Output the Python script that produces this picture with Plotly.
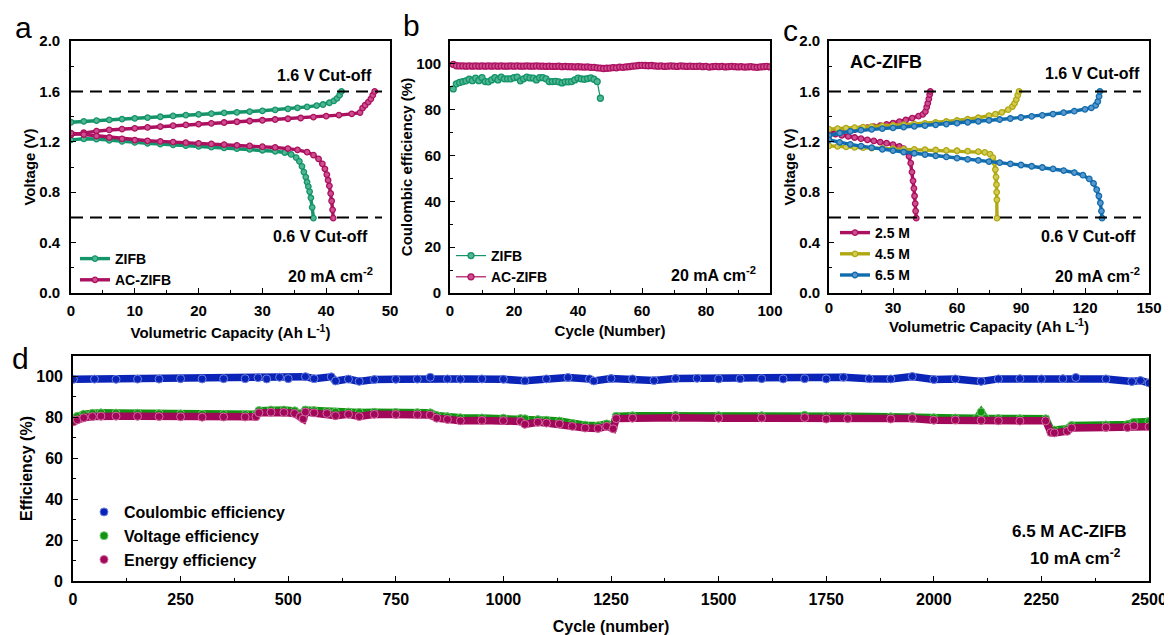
import plotly.graph_objects as go

FONT = "Liberation Sans"
W, H = 1172, 635
OFF = 8  # the page body adds an 8px margin around the figure

# ---- panel a: charge / discharge curves at 20 mA cm-2 ----
zifb_chg_cap = [0, 2, 4, 6, 8, 10, 12, 14, 16, 18, 20, 22, 24, 26, 28, 30, 32, 34, 35.5, 37, 38.5,
                39.5, 40.5, 41.2, 41.7, 42.1, 42.4]
zifb_chg_v = [1.355, 1.362, 1.368, 1.374, 1.380, 1.386, 1.392, 1.399, 1.405, 1.411, 1.418, 1.423,
              1.429, 1.434, 1.440, 1.446, 1.453, 1.462, 1.470, 1.477, 1.487, 1.496, 1.510, 1.525,
              1.545, 1.570, 1.600]
zifb_dis_cap = [0, 2, 4, 6, 8, 10, 12, 14, 16, 18, 20, 22, 24, 26, 28, 30, 32, 33.5, 34.5, 35.3,
                35.8, 36.2, 36.5, 36.8, 37.0, 37.2, 37.4, 37.6, 37.8, 38.0]
zifb_dis_v = [1.215, 1.224, 1.222, 1.212, 1.203, 1.195, 1.188, 1.182, 1.176, 1.170, 1.164, 1.158,
              1.152, 1.146, 1.140, 1.133, 1.125, 1.115, 1.100, 1.075, 1.045, 1.005, 0.960, 0.920,
              0.880, 0.845, 0.805, 0.755, 0.680, 0.595]
ac_chg_cap = [0, 2, 4, 6, 8, 10, 12, 14, 16, 18, 20, 22, 24, 26, 28, 30, 32, 34, 36, 38, 40, 42, 44,
              45.3, 45.7, 46.1, 46.6, 47.0, 47.3, 47.6]
ac_chg_v = [1.255, 1.272, 1.285, 1.294, 1.301, 1.307, 1.314, 1.321, 1.328, 1.334, 1.341, 1.347,
            1.353, 1.359, 1.365, 1.371, 1.377, 1.383, 1.389, 1.396, 1.403, 1.412, 1.422, 1.432,
            1.468, 1.490, 1.515, 1.540, 1.570, 1.600]
ac_dis_cap = [0, 2, 4, 6, 8, 10, 12, 14, 16, 18, 20, 22, 24, 26, 28, 30, 32, 34, 35.5, 37, 38, 38.8,
              39.4, 39.8, 40.1, 40.3, 40.5, 40.7, 40.85, 41.0, 41.1]
ac_dis_v = [1.268, 1.258, 1.246, 1.234, 1.224, 1.214, 1.208, 1.203, 1.198, 1.193, 1.188, 1.183,
            1.178, 1.172, 1.167, 1.161, 1.155, 1.146, 1.136, 1.118, 1.095, 1.065, 1.025, 0.985,
            0.940, 0.895, 0.850, 0.790, 0.730, 0.660, 0.595]

# ---- panel b: coulombic efficiency vs cycle ----
zifb_ce = [89.1, 91.3, 91.9, 92.3, 92.6, 93.3, 92.7, 93.8, 92.7, 94.0, 92.3, 92.2, 93.0, 94.0, 93.0,
           94.2, 93.5, 93.5, 93.5, 94.0, 94.2, 92.6, 93.5, 94.2, 93.9, 93.8, 93.0, 94.0, 94.0, 93.5,
           92.3, 92.3, 92.4, 92.2, 91.7, 92.2, 92.2, 92.3, 93.0, 93.8, 93.5, 93.3, 93.6, 93.9, 93.3,
           92.3, 85.0]
zifb_cycle = list(range(1, len(zifb_ce) + 1))
ac_ce = [99.8, 99.2, 99.1, 99.1, 99.0, 99.1, 99.0, 99.1, 99.0, 99.1,
         99.0, 99.1, 99.0, 99.1, 99.0, 99.1, 99.0, 99.0, 99.1, 99.0,
         99.1, 99.0, 99.0, 99.1, 99.0, 99.0, 99.1, 99.0, 99.0, 98.9,
         99.0, 98.9, 98.9, 99.0, 98.8, 98.9, 98.8, 98.8, 98.7, 98.8,
         98.7, 98.6, 98.7, 98.5, 98.5, 98.3, 98.2, 98.0, 98.1, 98.2,
         98.4, 98.3, 98.6, 98.5, 98.7, 98.8, 99.0, 99.1, 99.3, 99.4,
         99.3, 99.2, 99.3, 99.1, 99.0, 99.1, 98.9, 99.0, 99.1, 99.0,
         98.9, 99.1, 99.0, 98.9, 99.0, 98.9, 98.9, 99.0, 98.8, 98.9,
         98.6, 98.8, 98.9, 98.8, 98.9, 98.7, 98.8, 98.9, 98.8, 98.7,
         98.8, 98.6, 98.7, 98.8, 98.6, 98.5, 98.7, 98.8, 98.9, 98.7]
ac_cycle = list(range(1, len(ac_ce) + 1))

# ---- panel c: AC-ZIFB at three concentrations ----
m25_chg_cap = [0, 3, 6, 9, 12, 15, 18, 21, 24, 27, 30, 33, 36, 39, 42, 44, 45.2, 45.8, 46.3, 46.8,
               47.2, 47.5]
m25_chg_v = [1.268, 1.275, 1.282, 1.289, 1.296, 1.304, 1.312, 1.320, 1.329, 1.338, 1.348, 1.360,
             1.373, 1.388, 1.404, 1.418, 1.440, 1.475, 1.505, 1.540, 1.575, 1.600]
m25_dis_cap = [0, 3, 6, 9, 12, 15, 18, 21, 24, 27, 30, 33, 35, 36.5, 37.5, 38.3, 38.9, 39.4, 39.8,
               40.1, 40.4, 40.6, 40.9]
m25_dis_v = [1.273, 1.262, 1.252, 1.243, 1.234, 1.225, 1.216, 1.207, 1.198, 1.189, 1.178, 1.163,
             1.145, 1.120, 1.085, 1.030, 0.960, 0.890, 0.830, 0.770, 0.710, 0.650, 0.594]
m45_chg_cap = [0, 4, 8, 12, 16, 20, 25, 30, 35, 40, 45, 50, 55, 60, 65, 70, 75, 78, 81, 84, 86, 87,
               87.8, 88.5, 89.1]
m45_chg_v = [1.300, 1.305, 1.309, 1.313, 1.317, 1.321, 1.326, 1.331, 1.336, 1.341, 1.347, 1.353,
             1.361, 1.369, 1.379, 1.391, 1.407, 1.419, 1.434, 1.455, 1.480, 1.505, 1.535, 1.570,
             1.600]
m45_dis_cap = [0, 4, 8, 12, 16, 20, 25, 30, 35, 40, 45, 50, 55, 60, 65, 70, 73, 75.5, 76.8, 77.6,
               78.0, 78.3, 78.5, 78.6, 78.7, 78.75]
m45_dis_v = [1.168, 1.163, 1.159, 1.156, 1.153, 1.150, 1.147, 1.145, 1.142, 1.140, 1.137, 1.135,
             1.132, 1.129, 1.126, 1.122, 1.116, 1.102, 1.075, 1.035, 0.980, 0.920, 0.860, 0.800,
             0.740, 0.594]
m65_chg_cap = [0, 5, 10, 15, 20, 25, 30, 35, 40, 45, 50, 55, 60, 65, 70, 75, 80, 85, 90, 95, 100,
               105, 110, 115, 120, 123, 125, 126, 126.6, 127.0]
m65_chg_v = [1.250, 1.270, 1.283, 1.292, 1.299, 1.305, 1.311, 1.317, 1.323, 1.329, 1.335, 1.341,
             1.348, 1.355, 1.362, 1.370, 1.377, 1.385, 1.393, 1.401, 1.410, 1.420, 1.431, 1.443,
             1.458, 1.470, 1.490, 1.520, 1.560, 1.600]
m65_dis_cap = [0, 5, 10, 15, 20, 25, 30, 35, 40, 45, 50, 55, 60, 65, 70, 75, 80, 85, 90, 95, 100,
               105, 110, 115, 119, 122, 124, 125.5, 126.5, 127.2, 127.7, 128.0]
m65_dis_v = [1.215, 1.196, 1.180, 1.166, 1.153, 1.141, 1.130, 1.119, 1.109, 1.099, 1.089, 1.080,
             1.070, 1.061, 1.052, 1.043, 1.034, 1.025, 1.016, 1.006, 0.996, 0.985, 0.972, 0.956,
             0.935, 0.905, 0.870, 0.820, 0.770, 0.715, 0.650, 0.594]

CUTOFF_HIGH = 1.6
CUTOFF_LOW = 0.6

# ---- panel d: long cycling of 6.5 M AC-ZIFB at 10 mA cm-2 ----
ce_cycle = [1, 50, 100, 150, 200, 250, 300, 350, 400, 430, 450, 480, 500, 540, 560, 600, 610, 640,
            665, 700, 750, 800, 830, 870, 900, 950, 1000, 1050, 1100, 1150, 1200, 1210, 1250, 1300,
            1350, 1400, 1450, 1500, 1550, 1600, 1650, 1700, 1750, 1790, 1850, 1900, 1950, 2000,
            2050, 2110, 2150, 2200, 2250, 2300, 2330, 2400, 2460, 2480, 2500]
ce_val = [98.6, 98.7, 98.6, 98.7, 98.7, 98.9, 98.8, 98.9, 98.9, 99.4, 98.8, 99.6, 98.9, 99.9, 98.9,
          99.8, 97.8, 98.7, 97.6, 98.5, 98.6, 98.7, 99.6, 98.8, 98.7, 98.8, 98.6, 97.9, 98.8, 99.5,
          98.8, 97.8, 99.0, 98.8, 98.0, 99.0, 99.1, 98.8, 98.9, 98.9, 98.8, 98.9, 98.8, 99.6, 98.9,
          98.8, 100.0, 98.5, 98.8, 97.6, 98.8, 98.9, 98.8, 98.9, 99.5, 98.8, 97.5, 98.0, 96.8]
ee_cycle = [1, 10, 25, 45, 65, 100, 150, 200, 250, 300, 350, 400, 425, 432, 460, 490, 515, 528, 535,
            540, 560, 590, 610, 640, 665, 700, 750, 800, 830, 845, 870, 900, 950, 1000, 1040, 1050,
            1080, 1100, 1130, 1160, 1190, 1220, 1240, 1255, 1262, 1300, 1400, 1500, 1600, 1700,
            1750, 1800, 1900, 1950, 2000, 2050, 2110, 2150, 2200, 2260, 2272, 2280, 2310, 2320,
            2400, 2450, 2465, 2500]
ee_val = [77.8, 78.8, 79.8, 80.4, 80.6, 80.6, 80.5, 80.4, 80.3, 80.1, 80.2, 80.2, 80.3, 82.2, 82.5,
          82.4, 81.9, 80.4, 79.2, 82.6, 82.2, 81.9, 80.8, 81.5, 80.4, 81.5, 81.4, 81.3, 81.1, 79.6,
          79.0, 78.3, 78.5, 78.4, 78.0, 76.6, 77.6, 77.2, 76.8, 75.6, 74.8, 74.6, 75.6, 74.4, 79.4,
          79.6, 79.8, 79.6, 79.7, 79.9, 79.2, 79.4, 79.2, 79.5, 78.6, 78.7, 78.5, 78.3, 78.2, 78.3,
          72.6, 72.4, 73.2, 74.8, 75.1, 75.0, 75.8, 75.4]
ve_cycle = [1, 10, 25, 45, 65, 100, 150, 200, 250, 300, 350, 400, 425, 432, 460, 490, 515, 528, 535,
            540, 560, 590, 610, 640, 665, 700, 750, 800, 830, 845, 870, 900, 950, 1000, 1040, 1050,
            1080, 1100, 1130, 1160, 1190, 1220, 1240, 1255, 1262, 1300, 1400, 1500, 1600, 1700,
            1750, 1800, 1900, 1950, 2000, 2050, 2100, 2110, 2120, 2150, 2200, 2260, 2272, 2280,
            2310, 2320, 2400, 2450, 2465, 2500]
ve_val = [79.2, 80.5, 81.5, 82.0, 82.2, 82.1, 82.0, 81.8, 81.7, 81.5, 81.5, 81.4, 81.5, 83.3, 83.6,
          83.6, 83.2, 82.0, 80.6, 83.6, 83.3, 82.9, 82.6, 82.6, 82.4, 82.5, 82.4, 82.3, 82.2, 80.9,
          80.3, 79.8, 79.7, 79.6, 79.4, 79.3, 78.9, 78.6, 78.2, 77.0, 76.2, 75.9, 76.8, 76.0, 80.5,
          80.8, 80.9, 80.8, 80.8, 81.0, 80.6, 80.5, 80.3, 80.4, 79.8, 79.7, 79.6, 82.6, 79.5, 79.4,
          79.3, 79.3, 74.0, 73.8, 74.4, 76.0, 76.3, 76.5, 77.6, 78.0]

GREEN, GREEN_L = "#13946a", "#52b690"
MAG, MAG_L = "#ab1160", "#cf4f8e"
OLIVE, OLIVE_L = "#b0a812", "#d2cc55"
BLUE, BLUE_L = "#116cae", "#5898cc"
CE_C, CE_L = "#0a24b8", "#6e82dc"
VE_C, VE_L = "#129312", "#6cc46c"
EE_C, EE_L = "#a2085a", "#cf6c9f"


def curve(x, y, color, fill, xaxis, yaxis, name=None, legend=None, lw=3.4, ms=5.5):
    return go.Scatter(
        x=x, y=y, mode="lines+markers", name=name or "",
        showlegend=name is not None, legend=legend,
        line={"color": color, "width": lw},
        marker={"symbol": "circle", "size": ms, "color": fill, "line": {"color": color, "width": 1.3}},
        xaxis=xaxis, yaxis=yaxis, hoverinfo="skip",
    )


fig = go.Figure()

# panel a
fig.add_trace(curve(zifb_chg_cap, zifb_chg_v, GREEN, GREEN_L, "x", "y", "ZIFB", "legend"))
fig.add_trace(curve(zifb_dis_cap, zifb_dis_v, GREEN, GREEN_L, "x", "y"))
fig.add_trace(curve(ac_chg_cap, ac_chg_v, MAG, MAG_L, "x", "y", "AC-ZIFB", "legend"))
fig.add_trace(curve(ac_dis_cap, ac_dis_v, MAG, MAG_L, "x", "y"))

# panel b
fig.add_trace(curve(zifb_cycle, zifb_ce, GREEN, GREEN_L, "x2", "y2", "ZIFB", "legend2", lw=1.2, ms=6))
fig.add_trace(curve(ac_cycle, ac_ce, MAG, MAG_L, "x2", "y2", "AC-ZIFB", "legend2", lw=1.2, ms=6))

# panel c
fig.add_trace(curve(m25_chg_cap, m25_chg_v, MAG, MAG_L, "x3", "y3", "2.5 M", "legend3"))
fig.add_trace(curve(m25_dis_cap, m25_dis_v, MAG, MAG_L, "x3", "y3"))
fig.add_trace(curve(m45_chg_cap, m45_chg_v, OLIVE, OLIVE_L, "x3", "y3", "4.5 M", "legend3"))
fig.add_trace(curve(m45_dis_cap, m45_dis_v, OLIVE, OLIVE_L, "x3", "y3"))
fig.add_trace(curve(m65_chg_cap, m65_chg_v, BLUE, BLUE_L, "x3", "y3", "6.5 M", "legend3"))
fig.add_trace(curve(m65_dis_cap, m65_dis_v, BLUE, BLUE_L, "x3", "y3"))

# panel d: thick band + markers (markers carry the legend)
for cyc, val, col, lite, name in [
    (ce_cycle, ce_val, CE_C, CE_L, "Coulombic efficiency"),
    (ve_cycle, ve_val, VE_C, VE_L, "Voltage efficiency"),
    (ee_cycle, ee_val, EE_C, EE_L, "Energy efficiency"),
]:
    fig.add_trace(go.Scatter(
        x=cyc, y=val, mode="lines", showlegend=False,
        line={"color": col, "width": 7.5}, xaxis="x4", yaxis="y4", hoverinfo="skip",
    ))
    fig.add_trace(go.Scatter(
        x=cyc, y=val, mode="markers", name=name, legend="legend4",
        marker={"size": 8, "color": col, "line": {"color": lite, "width": 1}},
        xaxis="x4", yaxis="y4", hoverinfo="skip",
    ))


def axis(domain, rng, dtick, minor_dtick, title, anchor, standoff, fmt=None, size=15, tsize=15,
         label_gap=3):
    d = {
        "domain": domain, "range": rng, "dtick": dtick, "tick0": 0, "anchor": anchor,
        "showline": True, "linecolor": "black", "linewidth": 1.6, "mirror": True,
        "ticks": "inside", "ticklen": 5, "tickwidth": 1.4, "tickcolor": "black",
        "minor": {"ticks": "inside", "ticklen": 3, "tickwidth": 1.2, "tickcolor": "black",
                  "dtick": minor_dtick, "tick0": 0},
        "showgrid": False, "zeroline": False, "automargin": False,
        "ticklabelstandoff": label_gap,
        "tickfont": {"family": FONT, "size": size, "color": "black", "weight": "bold"},
        "title": {"text": title, "standoff": standoff,
                  "font": {"family": FONT, "size": tsize, "color": "black", "weight": "bold"}},
    }
    if fmt:
        d["tickformat"] = fmt
    return d


def px(x):
    return (x - OFF) / W


def py(y):
    return 1 - (y - OFF) / H


row_top = [py(293), py(41)]
fig.update_layout(
    width=W, height=H, autosize=False,
    margin={"l": 0, "r": 0, "t": 0, "b": 0},
    paper_bgcolor="white", plot_bgcolor="white",
    font={"family": FONT, "color": "black"},
    xaxis=axis([px(71), px(390)], [0, 50], 10, 5, "Volumetric Capacity (Ah L<sup>-1</sup>)", "y", 10),
    yaxis=axis(row_top, [0, 2.0], 0.4, 0.2, "Voltage (V)", "x", 0, ".1f", label_gap=6),
    xaxis2=axis([px(450), px(770)], [0, 100], 20, 10, "Cycle (Number)", "y2", 8),
    yaxis2=axis(row_top, [0, 110], 20, 10, "Coulombic efficiency (%)", "x2", 0, label_gap=4),
    xaxis3=axis([px(829), px(1149)], [0, 150], 30, 15, "Volumetric Capacity (Ah L<sup>-1</sup>)", "y3", 0,
                label_gap=0),
    yaxis3=axis(row_top, [0, 2.0], 0.4, 0.2, "Voltage (V)", "x3", 0, ".1f", label_gap=4),
    xaxis4=axis([px(73), px(1149)], [0, 2500], 250, 125, "Cycle (number)", "y4", 14, size=16, tsize=16),
    yaxis4=axis([py(581), py(356)], [0, 110], 20, 10, "Efficiency (%)", "x4", 0, size=16, tsize=16,
                label_gap=5),
)

leg_common = {"bgcolor": "rgba(0,0,0,0)", "borderwidth": 0, "xanchor": "left", "yanchor": "top",
              "font": {"family": FONT, "size": 14, "color": "black", "weight": "bold"},
              "tracegroupgap": 0, "itemwidth": 30}
fig.update_layout(
    legend=dict(leg_common, x=px(75), y=py(243)),
    legend2=dict(leg_common, x=px(451), y=py(240)),
    legend3=dict(leg_common, x=px(835), y=py(217)),
    legend4=dict(leg_common, x=px(84), y=py(495), font=dict(leg_common["font"], size=16)),
)

# cut-off lines
for xr in ["x", "x3"]:
    for level in [CUTOFF_HIGH, CUTOFF_LOW]:
        fig.add_shape(type="line", xref=f"{xr} domain", yref=xr.replace("x", "y"),
                      x0=0, x1=0.975, y0=level, y1=level,
                      line={"color": "black", "width": 2, "dash": "12px,7px"})


def note(text, x, y, xref, yref, anchor="right", size=16):
    fig.add_annotation(text=f"<b>{text}</b>", x=x, y=y, xref=xref, yref=yref, showarrow=False,
                       xanchor=anchor, yanchor="middle",
                       font={"family": FONT, "size": size, "color": "black"})


note("1.6 V Cut-off", 47.5, 1.73, "x", "y")
note("0.6 V Cut-off", 46.9, 0.445, "x", "y")
note("20 mA cm<sup>-2</sup>", 47.6, 0.14, "x", "y")
note("20 mA cm<sup>-2</sup>", 96.2, 8.5, "x2", "y2")
note("AC-ZIFB", 8.9, 1.83, "x3", "y3", anchor="left", size=18)
note("1.6 V Cut-off", 146.7, 1.74, "x3", "y3")
note("0.6 V Cut-off", 144.9, 0.445, "x3", "y3")
note("20 mA cm<sup>-2</sup>", 146.7, 0.145, "x3", "y3")
note("6.5 M AC-ZIFB", 2454, 24, "x4", "y4", size=17)
note("10 mA cm<sup>-2</sup>", 2440, 11.5, "x4", "y4", size=17)

for letter, x, y in [("a", 23, 28), ("b", 411, 26), ("c", 790, 30), ("d", 20, 358)]:
    fig.add_annotation(text=letter, x=px(x), y=py(y), xref="paper", yref="paper", showarrow=False,
                       xanchor="center", yanchor="middle",
                       font={"family": FONT, "size": 30, "color": "black"})

fig.write_html("out.html")
